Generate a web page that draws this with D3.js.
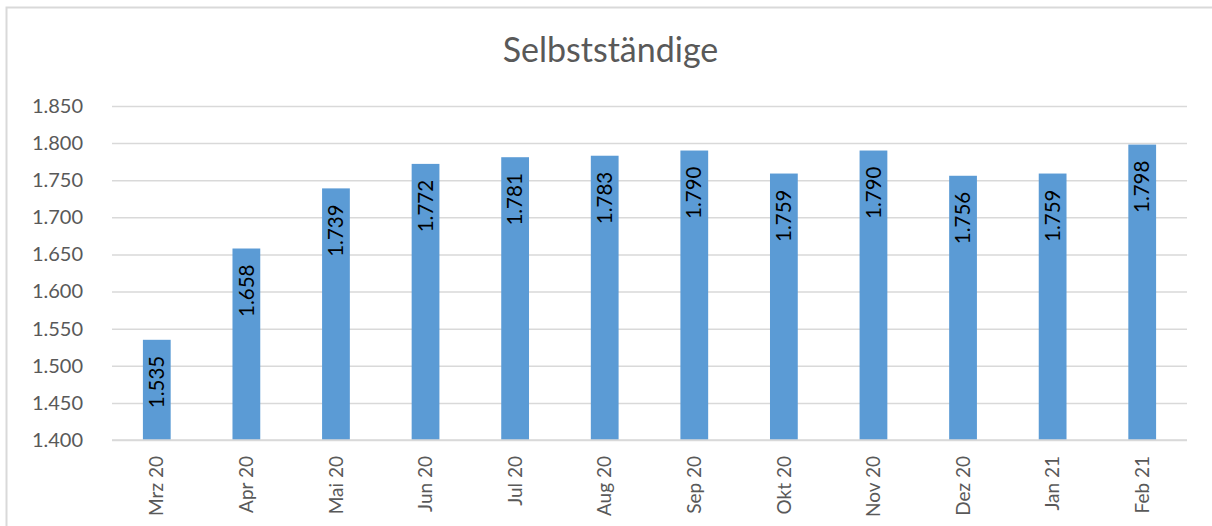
<!DOCTYPE html>
<html><head><meta charset="utf-8">
<script src="https://cdn.jsdelivr.net/npm/d3@7/dist/d3.min.js"></script>
<style>html,body{margin:0;padding:0;background:#fff;}svg{display:block;}</style>
</head><body>
<svg id="chart" width="1212" height="526"></svg>
<script>
const title = "Selbstständige";
const categories = ["Mrz 20","Apr 20","Mai 20","Jun 20","Jul 20","Aug 20","Sep 20","Okt 20","Nov 20","Dez 20","Jan 21","Feb 21"];
const values = [1535,1658,1739,1772,1781,1783,1790,1759,1790,1756,1759,1798];
const yTicks = [1400,1450,1500,1550,1600,1650,1700,1750,1800,1850];

const W = 1212, H = 526;
const m = {left:112, right:25, top:106, bottom:86};
const svg = d3.select("#chart");
const font = "Lato, 'Open Sans', sans-serif";
const loc = d3.formatLocale({decimal:",", thousands:".", grouping:[3], currency:["","€"]});
const fmt = loc.format(",.0f");

// border
svg.append("path").attr("d", `M6.5,${H} V7.5 H${W}`).attr("fill","none").attr("stroke","#d9d9d9").attr("stroke-width",2);

const x = d3.scaleBand().domain(categories).range([m.left, W - m.right]).paddingInner(0.69).paddingOuter(0.345);
const y = d3.scaleLinear().domain([1400,1850]).range([H - m.bottom, m.top]);

// grid
const yAxis = d3.axisLeft(y).tickValues(yTicks).tickFormat(fmt).tickSize(-(W - m.left - m.right)).tickPadding(29);
const gy = svg.append("g").attr("transform",`translate(${m.left},0)`).call(yAxis);
gy.select(".domain").remove();
gy.selectAll(".tick line").attr("stroke","#d9d9d9").attr("stroke-width",1.5);
gy.selectAll(".tick text").attr("fill","#595959").style("font-family",font).style("font-size","20px");

// bars
svg.append("g").selectAll("rect").data(values).join("rect")
  .attr("x",(d,i)=>x(categories[i]))
  .attr("width",x.bandwidth())
  .attr("y",d=>y(d))
  .attr("height",d=>y(1400)-y(d))
  .attr("fill","#5b9bd5");

// axis baseline
svg.append("line").attr("x1",m.left).attr("x2",W-m.right).attr("y1",y(1400)).attr("y2",y(1400)).attr("stroke","#d9d9d9").attr("stroke-width",1.5);

// data labels
svg.append("g").selectAll("text").data(values).join("text")
  .attr("transform",(d,i)=>`translate(${x(categories[i])+x.bandwidth()/2},${y(d)+16}) rotate(-90)`)
  .attr("text-anchor","end").attr("dy","0.35em")
  .attr("fill","#000").style("font-family",font).style("font-size","20.5px")
  .text(d=>fmt(d));

// x labels
const xAxis = d3.axisBottom(x).tickSize(0).tickPadding(0);
const gx = svg.append("g").attr("transform",`translate(0,${y(1400)})`).call(xAxis);
gx.select(".domain").remove();
gx.selectAll(".tick text").attr("transform","translate(0,16) rotate(-90)").attr("text-anchor","end")
  .attr("x",0).attr("y",0).attr("dy","0.35em")
  .attr("fill","#595959").style("font-family",font).style("font-size","19px");

// title
svg.append("text").attr("x",(m.left + W - m.right)/2 - 39).attr("y",62).attr("text-anchor","middle")
  .attr("fill","#595959").style("font-family",font).style("font-size","34px").text(title);
</script>
</body></html>
